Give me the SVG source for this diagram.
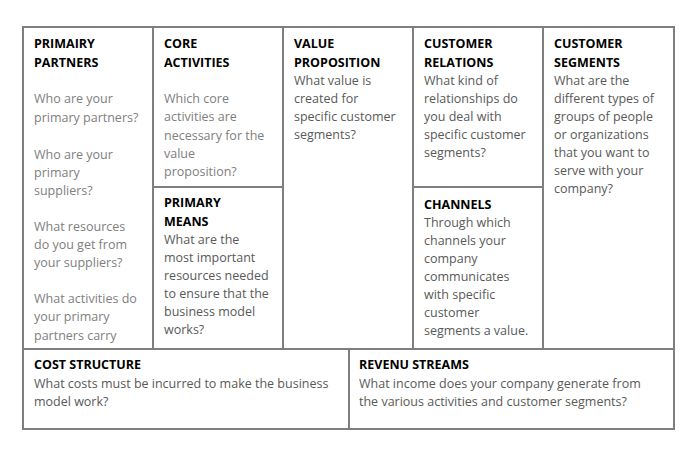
<svg xmlns="http://www.w3.org/2000/svg" width="696" height="450" viewBox="0 0 696 450">
<style>
.h{font-family:"Open Sans",sans-serif;font-size:12.5px;font-weight:bold;fill:#000}
.t{font-family:"Open Sans",sans-serif;font-size:12.5px;fill:#595959}
.l{fill:#808080}
.ln{stroke:#7f7f7f;stroke-width:2;fill:none}
</style>
<rect width="696" height="450" fill="#fff"/>
<g id="connectors">
<rect class="ln" x="23" y="27" width="651" height="402"/>
<path class="ln" d="M153 27V349M283 27V349M413 27V349M543 27V349M23 349H674M349 349V429M153 187H283M413 187H543"/>
</g>
<g id="partners"><text class="h" x="34"><tspan y="48">PRIMAIRY</tspan><tspan x="34" y="67">PARTNERS</tspan></text>
<text class="t l" x="34"><tspan y="103">Who are your</tspan><tspan x="34" y="122">primary partners?</tspan><tspan x="34" y="159">Who are your</tspan><tspan x="34" y="177">primary</tspan><tspan x="34" y="195">suppliers?</tspan><tspan x="34" y="231">What resources</tspan><tspan x="34" y="249">do you get from</tspan><tspan x="34" y="267">your suppliers?</tspan><tspan x="34" y="303">What activities do</tspan><tspan x="34" y="321">your primary</tspan><tspan x="34" y="340">partners carry</tspan></text></g>
<g id="activities"><text class="h" x="164"><tspan y="48">CORE</tspan><tspan x="164" y="67">ACTIVITIES</tspan></text>
<text class="t l" x="164"><tspan y="103">Which core</tspan><tspan x="164" y="121">activities are</tspan><tspan x="164" y="140">necessary for the</tspan><tspan x="164" y="158">value</tspan><tspan x="164" y="176">proposition?</tspan></text></g>
<g id="means"><text class="h" x="164"><tspan y="207">PRIMARY</tspan><tspan x="164" y="226">MEANS</tspan></text>
<text class="t" x="164"><tspan y="244">What are the</tspan><tspan x="164" y="262">most important</tspan><tspan x="164" y="280">resources needed</tspan><tspan x="164" y="298">to ensure that the</tspan><tspan x="164" y="316">business model</tspan><tspan x="164" y="334">works?</tspan></text></g>
<g id="value"><text class="h" x="294"><tspan y="48">VALUE</tspan><tspan x="294" y="67">PROPOSITION</tspan></text>
<text class="t" x="294"><tspan y="85">What value is</tspan><tspan x="294" y="103">created for</tspan><tspan x="294" y="121">specific customer</tspan><tspan x="294" y="139">segments?</tspan></text></g>
<g id="relations"><text class="h" x="424"><tspan y="48">CUSTOMER</tspan><tspan x="424" y="67">RELATIONS</tspan></text>
<text class="t" x="424"><tspan y="85">What kind of</tspan><tspan x="424" y="103">relationships do</tspan><tspan x="424" y="121">you deal with</tspan><tspan x="424" y="139">specific customer</tspan><tspan x="424" y="157">segments?</tspan></text></g>
<g id="channels"><text class="h" x="424" y="209">CHANNELS</text>
<text class="t" x="424"><tspan y="227">Through which</tspan><tspan x="424" y="245">channels your</tspan><tspan x="424" y="263">company</tspan><tspan x="424" y="281">communicates</tspan><tspan x="424" y="299">with specific</tspan><tspan x="424" y="317">customer</tspan><tspan x="424" y="335">segments a value.</tspan></text></g>
<g id="segments"><text class="h" x="554"><tspan y="48">CUSTOMER</tspan><tspan x="554" y="67">SEGMENTS</tspan></text>
<text class="t" x="554"><tspan y="85">What are the</tspan><tspan x="554" y="103">different types of</tspan><tspan x="554" y="121">groups of people</tspan><tspan x="554" y="139">or organizations</tspan><tspan x="554" y="157">that you want to</tspan><tspan x="554" y="175">serve with your</tspan><tspan x="554" y="193">company?</tspan></text></g>
<g id="cost"><text class="h" x="34" y="369">COST STRUCTURE</text>
<text class="t" x="34"><tspan y="388">What costs must be incurred to make the business</tspan><tspan x="34" y="406">model work?</tspan></text></g>
<g id="revenue"><text class="h" x="359" y="369">REVENU STREAMS</text>
<text class="t" x="359"><tspan y="388">What income does your company generate from</tspan><tspan x="359" y="406">the various activities and customer segments?</tspan></text></g>
</svg>
